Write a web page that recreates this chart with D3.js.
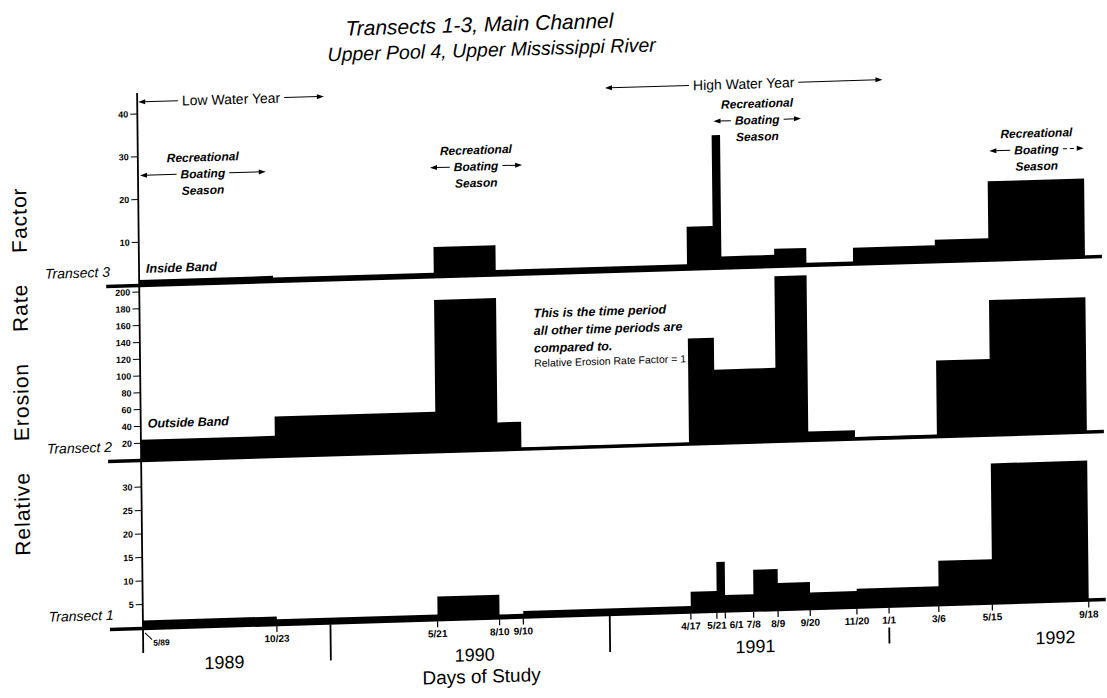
<!DOCTYPE html>
<html>
<head>
<meta charset="utf-8">
<script src="https://cdn.jsdelivr.net/npm/d3@7"></script>
<style>
  body { margin: 0; background: #fff; }
  svg { display: block; font-family: "Liberation Sans", Arial, sans-serif; }
</style>
</head>
<body>
<svg id="chart" width="1107" height="698"></svg>
<script>
// Start date of each sampling interval, and the end of the study
const periodStarts = ['1989-05-01', '1989-10-23', '1990-05-21', '1990-08-10', '1990-09-10',
  '1991-04-17', '1991-05-21', '1991-06-01', '1991-07-08', '1991-08-09', '1991-09-20',
  '1991-11-20', '1992-01-01', '1992-03-06', '1992-05-15'];
const studyEnd = '1992-09-18';

// Relative erosion rate factor for each interval (9/10/90 - 4/17/91 = 1)
const transect3 = [1.2, 0.8, 6.8, 1, 1, 9.8, 31, 2.6, 2.6, 4, 0.5, 3.7, 3.7, 5, 18.3];
const transect2 = [24, 47, 180, 32, 1, 125, 87, 87, 87, 196, 10, 2, 2, 90, 160];
const transect1 = [1.6, 1, 4.8, 0.6, 1.2, 4.2, 10.4, 3.3, 8.5, 5.5, 3.3, 3.8, 3.8, 9.2, 29.6];

// Axis ticks
const ticks3 = [10, 20, 30, 40];
const ticks2 = [20, 40, 60, 80, 100, 120, 140, 160, 180, 200];
const ticks1 = [5, 10, 15, 20, 25, 30];
const tickDates = ['1989-10-23', '1990-05-21', '1990-08-10', '1990-09-10', '1991-04-17',
  '1991-05-21', '1991-06-01', '1991-07-08', '1991-08-09', '1991-09-20', '1991-11-20',
  '1992-01-01', '1992-03-06', '1992-05-15', '1992-09-18'];
const yearBreaks = ['1990-01-01', '1991-01-01', '1992-01-01'];
const yearLabels = ['1989', '1990', '1991', '1992'];
const yearLabelDates = ['1989-08-15', '1990-07-08', '1991-07-10', '1992-08-05'];

// Annotations
const waterYears = ['Low Water Year', 'High Water Year'];
const waterYearSpans = [['1989-05-01', '1989-12-31'], ['1991-01-01', '1991-12-31']];
const seasonSpans = [['1989-05-01', '1989-10-15'], ['1990-05-15', '1990-09-15'],
  ['1991-05-21', '1991-09-15'], ['1992-05-15', '1992-09-18']];

const parse = d3.timeParse('%Y-%m-%d');
const fmt = d3.timeFormat('%-m/%-d');

const svg = d3.select('#chart');

// the scanned original is slightly tilted; reproduce that tilt around the lower-left corner
const root = svg.append('g')
  .attr('transform', 'translate(143,630) rotate(-0.63) skewY(-1.09) translate(-143,-630)');

const x = d3.scaleTime()
  .domain([parse(periodStarts[0]), parse(studyEnd)])
  .range([143, 1089]);

const panels = [
  { name: 'Transect 3', values: transect3, max: 40, ticks: ticks3, base: 285, top: 114, band: 'Inside Band', bandY: 12 },
  { name: 'Transect 2', values: transect2, max: 200, ticks: ticks2, base: 460, top: 292, band: 'Outside Band', bandY: 32 },
  { name: 'Transect 1', values: transect1, max: 30, ticks: ticks1, base: 628, top: 487, band: null }
];

// Steps for each transect
panels.forEach(p => {
  const y = d3.scaleLinear().domain([0, p.max]).range([p.base, p.top]);
  const pts = periodStarts.map((d, i) => ({ date: parse(d), v: p.values[i] }));
  pts.push({ date: parse(studyEnd), v: p.values[p.values.length - 1] });

  const area = d3.area()
    .curve(d3.curveStepAfter)
    .x(d => x(d.date))
    .y0(y(0))
    .y1(d => y(d.v));

  root.append('path')
    .datum(pts)
    .attr('d', area)
    .attr('fill', '#000');

  // heavy baseline
  root.append('line')
    .attr('x1', 110).attr('x2', 1106)
    .attr('y1', y(0) + 0.5).attr('y2', y(0) + 0.5)
    .attr('stroke', '#000').attr('stroke-width', 3.5);

  // y ticks
  const tg = root.append('g').attr('class', 'y-ticks');
  tg.selectAll('line')
    .data(p.ticks)
    .enter()
    .append('line')
    .attr('x1', 136).attr('x2', 143)
    .attr('y1', d => y(d)).attr('y2', d => y(d))
    .attr('stroke', '#000').attr('stroke-width', 1);
  tg.selectAll('text')
    .data(p.ticks)
    .enter()
    .append('text')
    .attr('x', 134)
    .attr('y', d => y(d))
    .attr('dy', '0.35em')
    .attr('text-anchor', 'end')
    .attr('font-size', 9)
    .attr('font-weight', 'bold')
    .text(d => d);

  root.append('text')
    .attr('x', 114)
    .attr('y', y(0) - 9)
    .attr('text-anchor', 'end')
    .attr('font-size', 14)
    .attr('font-style', 'italic')
    .text(p.name);

  if (p.band) {
    root.append('text')
      .attr('x', 150)
      .attr('y', y(0) - p.bandY)
      .attr('font-size', 12.5)
      .attr('font-style', 'italic')
      .attr('font-weight', 'bold')
      .text(p.band);
  }
});

// vertical axis line through all three panels
root.append('line')
  .attr('x1', 143).attr('x2', 143)
  .attr('y1', 93).attr('y2', 653)
  .attr('stroke', '#000').attr('stroke-width', 1.8);

// Date ticks along the bottom
const bottom = 628;
const dg = root.append('g').attr('class', 'x-ticks');
dg.selectAll('line')
  .data(tickDates)
  .enter()
  .append('line')
  .attr('x1', d => x(parse(d))).attr('x2', d => x(parse(d)))
  .attr('y1', bottom + 2).attr('y2', bottom + 8)
  .attr('stroke', '#000').attr('stroke-width', 1.2);

const labels = dg.selectAll('text')
  .data(tickDates)
  .enter()
  .append('text')
  .attr('x', d => x(parse(d)))
  .attr('y', bottom + 18)
  .attr('text-anchor', 'middle')
  .attr('font-size', 10)
  .attr('font-weight', 'bold')
  .text(d => fmt(parse(d)));

// push crowded labels apart
let prevRight = -Infinity;
labels.each(function() {
  const w = this.getComputedTextLength();
  let cx = +this.getAttribute('x');
  if (cx - w / 2 < prevRight + 3) {
    cx = prevRight + 3 + w / 2;
    this.setAttribute('x', cx);
  }
  prevRight = cx + w / 2;
});

// start label with leader
const x0 = x(parse(periodStarts[0]));
root.append('line')
  .attr('x1', x0 + 2).attr('y1', bottom + 5)
  .attr('x2', x0 + 9).attr('y2', bottom + 12)
  .attr('stroke', '#000').attr('stroke-width', 1);
root.append('text')
  .attr('x', x0 + 10).attr('y', bottom + 18)
  .attr('font-size', 8.5).attr('font-weight', 'bold')
  .text('5/89');

// year dividers
root.selectAll('.year-break')
  .data(yearBreaks)
  .enter()
  .append('line')
  .attr('class', 'year-break')
  .attr('x1', d => x(parse(d))).attr('x2', d => x(parse(d)))
  .attr('y1', d => tickDates.includes(d) ? bottom + 22 : bottom + 2)
  .attr('y2', bottom + 38)
  .attr('stroke', '#000').attr('stroke-width', 1.8);

root.selectAll('.year-label')
  .data(yearLabels)
  .enter()
  .append('text')
  .attr('class', 'year-label')
  .attr('x', (d, i) => x(parse(yearLabelDates[i])))
  .attr('y', 671)
  .attr('text-anchor', 'middle')
  .attr('font-size', 18)
  .text(d => d);

root.append('text')
  .attr('x', 481).attr('y', 693)
  .attr('text-anchor', 'middle')
  .attr('font-size', 19)
  .text('Days of Study');

// Titles
root.append('text')
  .attr('x', 486).attr('y', 42)
  .attr('text-anchor', 'middle')
  .attr('font-size', 21).attr('font-style', 'italic')
  .text('Transects 1-3, Main Channel');
root.append('text')
  .attr('x', 498).attr('y', 67)
  .attr('text-anchor', 'middle')
  .attr('font-size', 19.5).attr('font-style', 'italic')
  .text('Upper Pool 4, Upper Mississippi River');

root.append('text')
  .attr('transform', 'translate(31,368) rotate(-90)')
  .attr('text-anchor', 'middle')
  .attr('font-size', 21)
  .attr('letter-spacing', 1)
  .attr('word-spacing', 24)
  .text('Relative Erosion Rate Factor');

// arrow with a label sitting in the middle of it
function arrowLabel(g, x1, x2, y, label, size, style, dashRight) {
  const mid = (x1 + x2) / 2;
  const t = g.append('text')
    .attr('x', mid).attr('y', y).attr('dy', '0.35em')
    .attr('text-anchor', 'middle')
    .attr('font-size', size)
    .attr('font-style', style.italic ? 'italic' : 'normal')
    .attr('font-weight', style.bold ? 'bold' : 'normal')
    .text(label);
  const w = t.node().getComputedTextLength();
  g.append('line')
    .attr('x1', x1 + 5).attr('x2', mid - w / 2 - 4)
    .attr('y1', y).attr('y2', y)
    .attr('stroke', '#000').attr('stroke-width', 1);
  g.append('line')
    .attr('x1', mid + w / 2 + 4).attr('x2', x2 - 5)
    .attr('y1', y).attr('y2', y)
    .attr('stroke', '#000').attr('stroke-width', 1)
    .attr('stroke-dasharray', dashRight ? '4,3' : null);
  g.append('path')
    .attr('d', `M${x1},${y}L${x1 + 7},${y - 2.5}L${x1 + 7},${y + 2.5}Z`)
    .attr('fill', '#000');
  g.append('path')
    .attr('d', `M${x2},${y}L${x2 - 7},${y - 2.5}L${x2 - 7},${y + 2.5}Z`)
    .attr('fill', '#000');
}

const notes = root.append('g').attr('class', 'notes');

waterYears.forEach((label, i) => {
  const [a, b] = waterYearSpans[i];
  arrowLabel(notes, x(parse(a)) + 1, x(parse(b)), 102, label, 14, {}, false);
});

const seasonTop = [159, 160, 122, 160];
seasonSpans.forEach(([a, b], i) => {
  const x1 = x(parse(a)) + 2;
  const x2 = x(parse(b));
  const mid = (x1 + x2) / 2;
  const yTop = seasonTop[i];
  notes.append('text')
    .attr('x', mid).attr('y', yTop).attr('dy', '0.35em')
    .attr('text-anchor', 'middle')
    .attr('font-size', 12).attr('font-style', 'italic').attr('font-weight', 'bold')
    .text('Recreational');
  arrowLabel(notes, x1, x2, yTop + 16.5, 'Boating', 12, { italic: true, bold: true }, i === 3);
  notes.append('text')
    .attr('x', mid).attr('y', yTop + 33).attr('dy', '0.35em')
    .attr('text-anchor', 'middle')
    .attr('font-size', 12).attr('font-style', 'italic').attr('font-weight', 'bold')
    .text('Season');
});

// note for the reference period
const refLines = ['This is the time period', 'all other time periods are', 'compared to.'];
notes.selectAll('.ref-note')
  .data(refLines)
  .enter()
  .append('text')
  .attr('class', 'ref-note')
  .attr('x', 537)
  .attr('y', (d, i) => 325 + i * 17.5)
  .attr('dy', '0.35em')
  .attr('font-size', 12.5).attr('font-style', 'italic').attr('font-weight', 'bold')
  .text(d => d);
notes.append('text')
  .attr('x', 537).attr('y', 375).attr('dy', '0.35em')
  .attr('font-size', 10.5)
  .text('Relative Erosion Rate Factor = 1');
</script>
</body>
</html>
